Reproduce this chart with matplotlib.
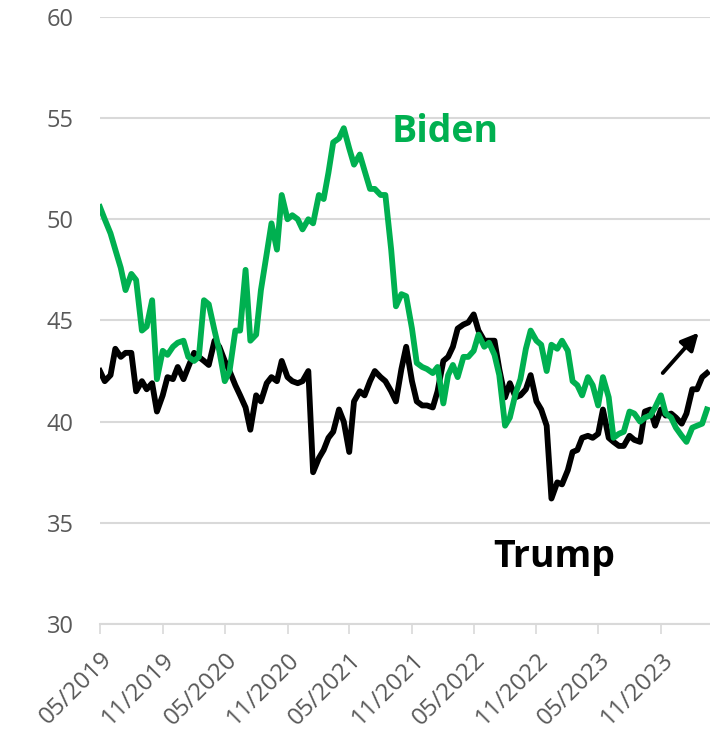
import pandas as pd
import matplotlib.pyplot as plt
import matplotlib.dates as mdates

plt.rcParams['font.family'] = ['Open Sans', 'DejaVu Sans']

# semi-monthly readings, 05/2019 .. 03/2024
dates = pd.date_range('2019-05-01', periods=118, freq='SMS')

biden = [50.6, 50.0, 49.3, 48.5, 47.6, 46.5, 47.3, 47.0, 44.5, 44.7,
         46.0, 42.1, 43.5, 43.3, 43.7, 43.9, 44.0, 43.2, 43.0, 43.2,
         46.0, 45.8, 44.5, 43.5, 42.0, 42.5, 44.5, 44.5, 47.5, 44.0,
         44.3, 46.5, 48.3, 49.8, 48.5, 51.2, 50.0, 50.2, 50.0, 49.5,
         50.0, 49.8, 51.2, 51.0, 52.3, 53.8, 54.0, 54.5, 53.5, 52.7,
         53.2, 52.4, 51.5, 51.5, 51.2, 51.2, 48.5, 45.7, 46.3, 46.2,
         44.6, 42.9, 42.7, 42.6, 42.4, 42.7, 40.9, 42.3, 42.8, 42.2,
         43.2, 43.2, 43.5, 44.3, 43.7, 43.9, 43.3, 42.3, 39.8, 40.2,
         41.4, 42.1, 43.6, 44.5, 44.0, 43.8, 42.5, 43.8, 43.6, 44.0,
         43.5, 42.0, 41.8, 41.3, 42.2, 41.8, 40.8, 42.2, 41.2, 39.2,
         39.4, 39.5, 40.5, 40.4, 40.0, 40.2, 40.3, 40.7, 41.3, 40.4,
         40.2, 39.7, 39.3, 39.0, 39.7, 39.8, 39.9, 40.6]

trump = [42.5, 42.0, 42.3, 43.6, 43.2, 43.4, 43.4, 41.5, 42.0, 41.6,
         41.9, 40.5, 41.3, 42.2, 42.1, 42.7, 42.1, 42.7, 43.4, 43.2,
         43.0, 42.8, 44.0, 43.7, 43.0, 42.5, 41.8, 41.3, 40.7, 39.6,
         41.3, 41.0, 41.9, 42.2, 42.0, 43.0, 42.2, 42.0, 41.9, 42.0,
         42.5, 37.5, 38.2, 38.6, 39.2, 39.5, 40.6, 40.0, 38.5, 41.0,
         41.5, 41.3, 42.0, 42.5, 42.2, 42.0, 41.5, 41.0, 42.6, 43.7,
         42.0, 41.0, 40.8, 40.8, 40.7, 41.5, 43.0, 43.2, 43.7, 44.6,
         44.8, 44.9, 45.3, 44.5, 44.0, 44.0, 44.0, 42.6, 41.2, 41.9,
         41.2, 41.3, 41.6, 42.3, 41.0, 40.6, 39.8, 36.2, 37.0, 36.9,
         37.6, 38.5, 38.6, 39.2, 39.3, 39.2, 39.4, 40.6, 39.2, 39.0,
         38.8, 38.8, 39.3, 39.1, 39.0, 40.5, 40.6, 39.8, 40.6, 40.3,
         40.4, 40.2, 39.9, 40.4, 41.6, 41.6, 42.2, 42.4]

tick_dates = pd.date_range('2019-05-01', '2023-11-01', freq='6MS')

green = '#00B050'
grey = '#595959'

fig = plt.figure(figsize=(7.1, 7.35), dpi=100)
ax = fig.add_axes([0.1408, 0.151, 0.8592, 0.826])

ax.plot(dates, trump, color='black', lw=4.2, solid_joinstyle='round', zorder=3)
ax.plot(dates, biden, color=green, lw=4.2, solid_joinstyle='round', zorder=4)

ax.set_ylim(30, 60)
ax.set_yticks(range(30, 61, 5))
ax.set_xlim(pd.Timestamp('2019-05-01'), pd.Timestamp('2024-03-24'))
ax.set_xticks(tick_dates)
ax.xaxis.set_major_formatter(mdates.DateFormatter('%m/%Y'))

ax.grid(axis='y', color='#D9D9D9', lw=1.5, zorder=0)
for s in ['top', 'right', 'left']:
    ax.spines[s].set_visible(False)
ax.spines['bottom'].set_color('#D9D9D9')
ax.spines['bottom'].set_linewidth(1.5)

ax.tick_params(axis='y', length=0, pad=19, labelsize=17, labelcolor=grey)
ax.tick_params(axis='x', length=7, width=1.2, color='#D9D9D9', pad=10,
               labelsize=17.5, labelcolor=grey)
plt.setp(ax.get_xticklabels(), rotation=45, ha='right', rotation_mode='anchor')

ax.text(pd.Timestamp('2021-09-01'), 54.3, 'Biden', color=green, fontsize=27,
        fontweight='bold', va='center', ha='left')
ax.text(pd.Timestamp('2022-06-28'), 33.3, 'Trump', color='black', fontsize=27,
        fontweight='bold', va='center', ha='left')

ax.annotate('', xy=(pd.Timestamp('2024-02-25'), 44.5),
            xytext=(pd.Timestamp('2023-11-01'), 42.3),
            arrowprops=dict(arrowstyle='-|>', color='black', lw=2.8,
                            mutation_scale=26))

fig.savefig('out.png', dpi=100)
